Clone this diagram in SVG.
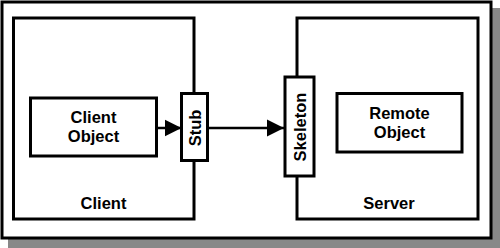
<svg xmlns="http://www.w3.org/2000/svg" width="500" height="248" viewBox="0 0 500 248">
  <style>
    .box { fill: #fff; stroke: #000; stroke-width: 3; }
    .lbl { font-family: "Liberation Sans", Arial, sans-serif; font-weight: bold; font-size: 16.5px; fill: #000; text-anchor: middle; }
    .wire { stroke: #000; stroke-width: 2.5; fill: none; }
  </style>
  <defs>
    <marker id="arrow" viewBox="0 0 10 10" refX="10" refY="5" markerUnits="userSpaceOnUse" markerWidth="17" markerHeight="18" orient="auto">
      <path d="M0,0 L10,5 L0,10 Z" fill="#000"/>
    </marker>
  </defs>

  <!-- frame with drop shadow -->
  <g id="frame">
    <rect x="8" y="8" width="492" height="240" fill="#888"/>
    <rect x="2" y="2" width="489" height="236" class="box"/>
  </g>

  <g id="client">
    <rect x="13.5" y="18" width="180.5" height="201" class="box"/>
    <text x="103.5" y="209" class="lbl">Client</text>
  </g>

  <g id="server">
    <rect x="297" y="18" width="181" height="201" class="box"/>
    <text x="389" y="209" class="lbl">Server</text>
  </g>

  <g id="client-object">
    <rect x="30.5" y="98" width="126" height="58" class="box"/>
    <text x="93.5" y="122.5" class="lbl">Client</text>
    <text x="93.5" y="142" class="lbl">Object</text>
  </g>

  <g id="remote-object">
    <rect x="337" y="93.5" width="125" height="58.5" class="box"/>
    <text x="399.5" y="118.5" class="lbl">Remote</text>
    <text x="399.5" y="138" class="lbl">Object</text>
  </g>

  <g id="stub">
    <rect x="181.5" y="93.5" width="26" height="67" class="box"/>
    <text transform="translate(200.5,128) rotate(-90)" class="lbl">Stub</text>
  </g>

  <g id="skeleton">
    <rect x="285" y="77" width="29" height="99" class="box"/>
    <text transform="translate(305.5,127) rotate(-90)" class="lbl">Skeleton</text>
  </g>

  <g id="connectors">
    <line x1="156.5" y1="128" x2="181.5" y2="128" class="wire" marker-end="url(#arrow)"/>
    <line x1="207.5" y1="128" x2="284" y2="128" class="wire" marker-end="url(#arrow)"/>
  </g>
</svg>
